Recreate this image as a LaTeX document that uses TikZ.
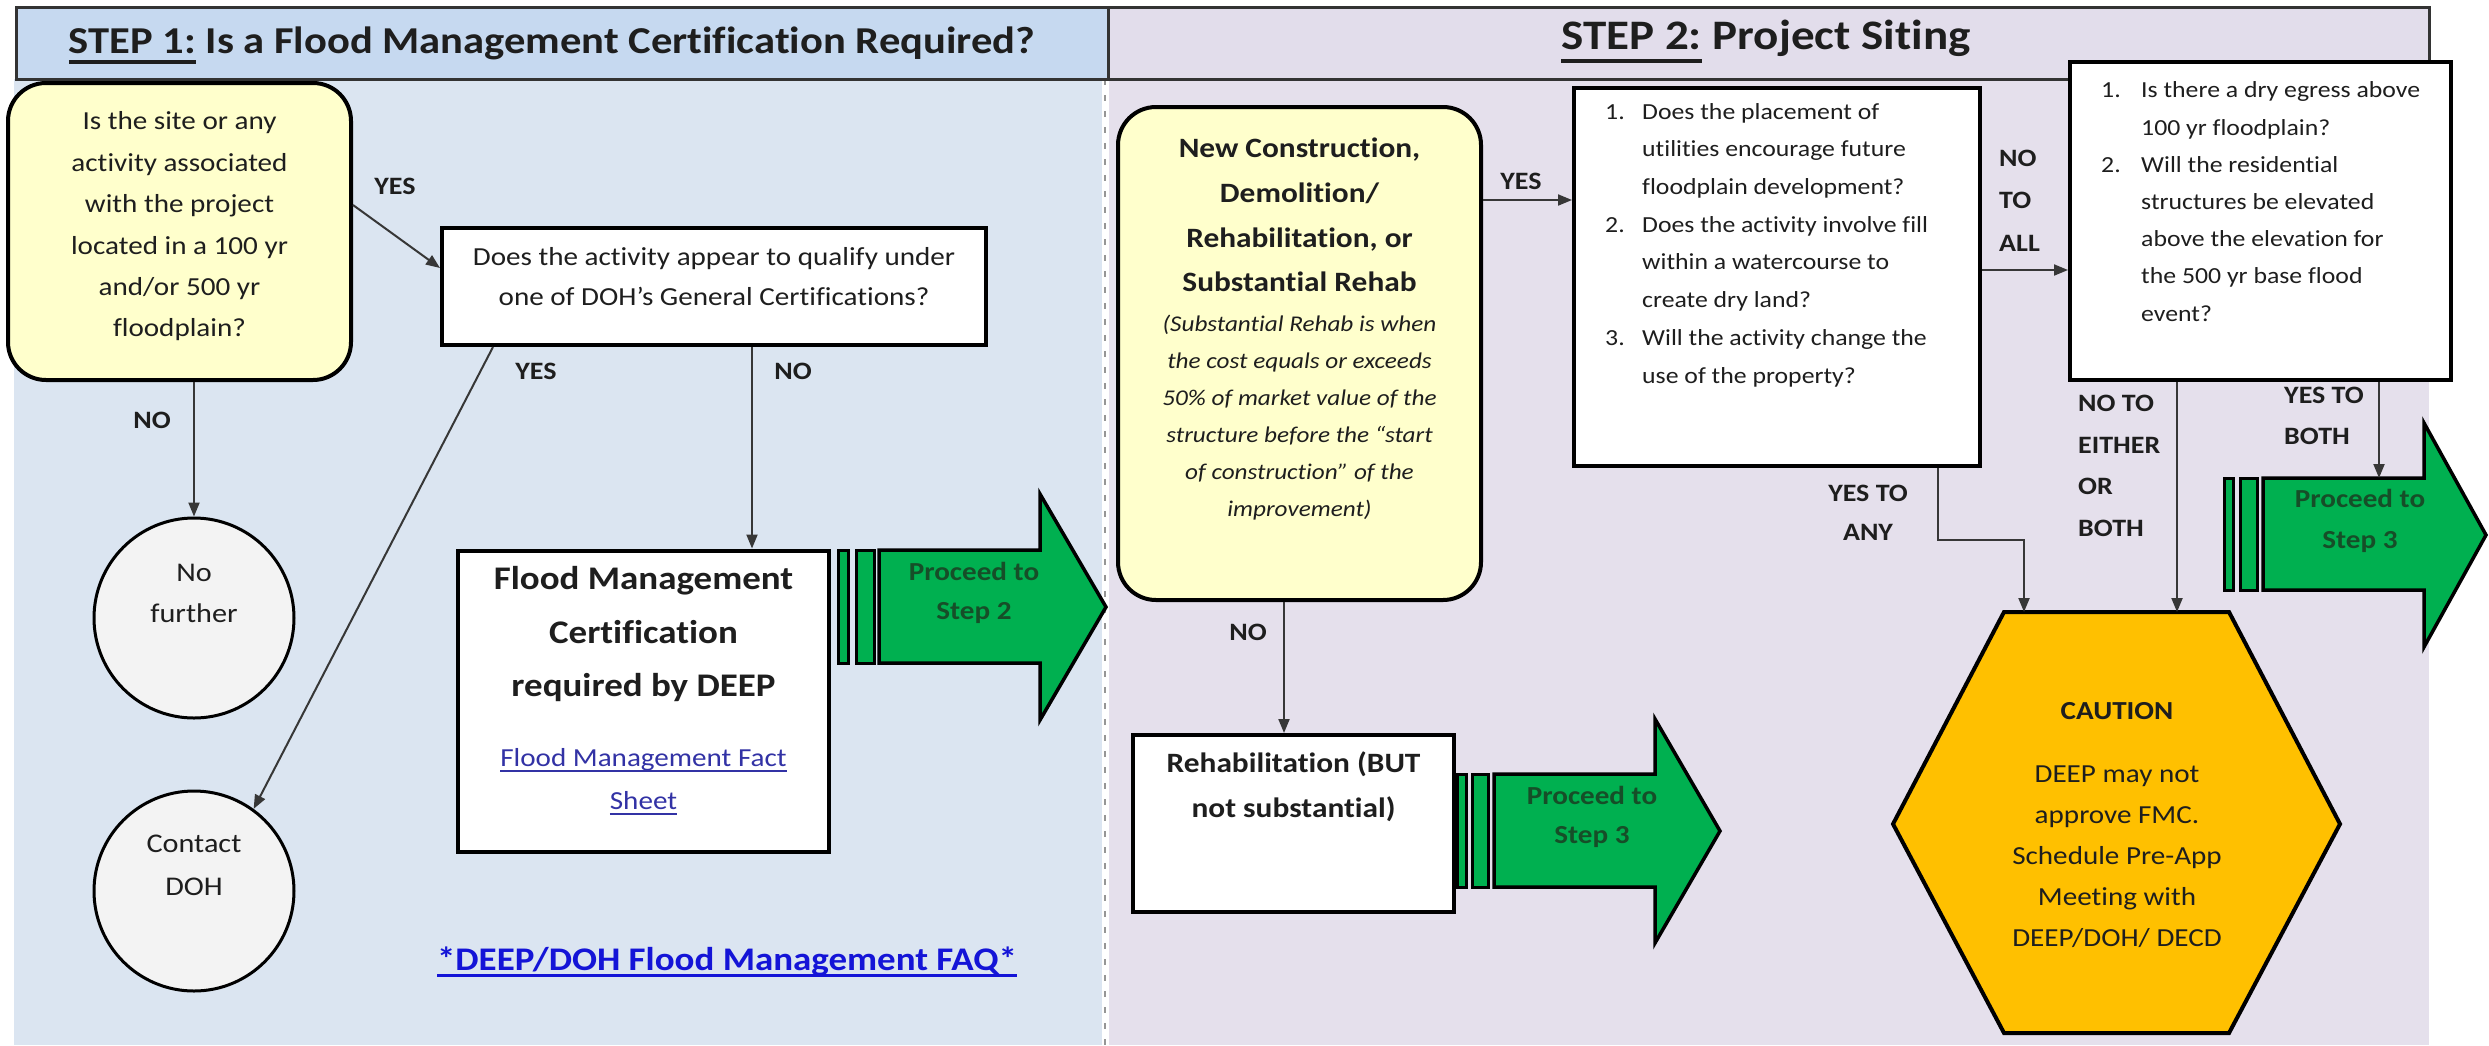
\documentclass[tikz,border=0pt]{standalone}
\usepackage{fontspec}
\setmainfont{Carlito}[FakeStretch=1.12,Ligatures=NoCommon]
\usetikzlibrary{arrows.meta,calc}

\definecolor{hdrA}{RGB}{198,217,240}
\definecolor{panA}{RGB}{219,229,241}
\definecolor{hdrB}{RGB}{226,221,235}
\definecolor{panB}{RGB}{229,224,236}
\definecolor{ybg}{RGB}{255,255,204}
\definecolor{cgray}{RGB}{243,243,243}
\definecolor{amber}{RGB}{255,192,0}
\definecolor{grn}{RGB}{0,176,80}
\definecolor{dkgrn}{RGB}{22,78,40}
\definecolor{txtc}{RGB}{30,30,30}
\definecolor{arrc}{RGB}{55,55,55}
\definecolor{linkc}{RGB}{50,50,165}
\definecolor{faqc}{RGB}{20,20,215}
\definecolor{sepc}{RGB}{150,150,150}

\newcommand{\fsz}[2]{\fontsize{#1pt}{#2pt}\selectfont}
\newcommand{\myul}[3]{\setbox0=\hbox{#3}\leavevmode\rlap{\rule[-#1]{\wd0}{#2}}\box0\relax}

\tikzset{
  box/.style={draw=black, line width=4pt, fill=white, inner sep=0pt},
  ybox/.style={box, fill=ybg, rounded corners=38pt},
  circ/.style={circle, draw=black, line width=3pt, fill=cgray, minimum size=200pt, inner sep=0pt},
  txt/.style={inner sep=0pt, text=txtc},
  lbl/.style={txt, font=\bfseries\fsz{25}{41}},
  arr/.style={draw=arrc, line width=2pt, -{Triangle[length=14pt,width=11pt]}},
  bar/.style={draw=black, line width=3pt, fill=grn},
  garrow/.style={draw=black, line width=3.5pt, fill=grn, line join=miter},
  gtxt/.style={txt, text=dkgrn, align=center},
}

\begin{document}
\begin{tikzpicture}[x=1pt,y=-1pt]
\useasboundingbox (0,0) rectangle (2489,1045);
\fill[white] (0,0) rectangle (2489,1045);

% panels and headers
\fill[hdrA] (16,7) rectangle (1108,79);
\fill[hdrB] (1108,7) rectangle (2429,79);
\fill[panA] (14,79) rectangle (1105,1045);
\fill[panB] (1105,79) rectangle (2429,1045);
\draw[white, line width=7pt] (1105,79) -- (1105,1045);
\draw[sepc, line width=2pt, dash pattern=on 6pt off 10pt] (1105,79) -- (1105,1045);
\draw[line width=3pt, draw=black!80] (16,7) rectangle (2429,79);
\draw[line width=3pt, draw=black!80] (1108,7) -- (1108,79);

\node[txt, font=\bfseries\fsz{38}{44}, anchor=base] (h1) at (552,53)
  {\myul{11pt}{4pt}{STEP 1:} Is a Flood Management Certification Required?};
\node[txt, font=\bfseries\fsz{42}{48}, anchor=base] (h2) at (1766,49)
  {\myul{14pt}{4.5pt}{STEP 2:} Project Siting};

% ---------- STEP 1 ----------
\node[ybox, minimum width=343pt, minimum height=297pt] (q1) at (179.5,231.5) {};
\node[txt, align=center, font=\fsz{26}{41.4}] (q1t) at (179.5,226.5)
  {Is the site or any\\activity associated\\with the project\\located in a 100 yr\\and/or 500 yr\\floodplain?};

\node[box, minimum width=544pt, minimum height=117pt] (q2) at (714,286.5) {};
\node[txt, align=center, font=\fsz{26}{40}] (q2t) at (714,277)
  {Does the activity appear to qualify under\\one of DOH’s General Certifications?};

\node[circ] (nf) at (194,618) {};
\node[txt, align=center, font=\fsz{27}{41}] (nft) at (194,593.5) {No\\further};
\node[circ] (cd) at (194,891) {};
\node[txt, align=center, font=\fsz{27}{43}] (cdt) at (194,865.5) {Contact\\DOH};

\node[box, minimum width=371pt, minimum height=301pt] (fmc) at (643.5,701) {};
\node[txt, align=center, font=\bfseries\fsz{33}{53.5}] (fmct) at (643.5,634.5)
  {Flood Management\\Certification\\required by DEEP};
\node[txt, align=center, text=linkc, font=\fsz{26}{43}] (fmcl) at (643.5,781.5)
  {\myul{6pt}{2.2pt}{Flood Management Fact}\\\myul{6pt}{2.2pt}{Sheet}};

\node[txt, text=faqc, font=\bfseries\fsz{33}{40}] (faq) at (727,962)
  {\myul{6pt}{3pt}{*DEEP/DOH Flood Management FAQ*}};

% green arrow step 2
\draw[bar] (838,550) rectangle (848,663);
\draw[bar] (856,550) rectangle (874,663);
\draw[garrow] (879,550) -- (1040,550) -- (1040,494) -- (1106,607) -- (1040,720) -- (1040,663) -- (879,663) -- cycle;
\node[gtxt, font=\bfseries\fsz{26}{39}] (g2t) at (974,592.5) {Proceed to\\Step 2};

% ---------- STEP 2 ----------
\node[ybox, minimum width=363pt, minimum height=493pt] (y2) at (1299.5,353.5) {};
\node[txt, align=center, font=\bfseries\fsz{28}{44.7}] (y2t) at (1299.5,215)
  {New Construction,\\Demolition/\\Rehabilitation, or\\Substantial Rehab};
\node[txt, align=center, font=\itshape\fsz{22.5}{37}] (y2i) at (1299.5,418)
  {(Substantial Rehab is when\\the cost equals or exceeds\\50\% of market value of the\\structure  before the “start\\of construction” of the\\improvement)};

\node[box, minimum width=406pt, minimum height=378pt] (q3) at (1777,277) {};
\node[txt, align=left, anchor=west, font=\fsz{23}{37.7}] (q3t) at (1605,245)
  {\makebox[37pt][l]{1.}Does the placement of\\
   \hspace*{37pt}utilities encourage future\\
   \hspace*{37pt}floodplain development?\\
   \makebox[37pt][l]{2.}Does the activity involve fill\\
   \hspace*{37pt}within a watercourse to\\
   \hspace*{37pt}create dry land?\\
   \makebox[37pt][l]{3.}Will the activity change the\\
   \hspace*{37pt}use of the property?};

\node[box, minimum width=381pt, minimum height=318pt] (q4) at (2260.5,221) {};
\node[txt, align=left, anchor=west, font=\fsz{23}{37.2}] (q4t) at (2101,201.5)
  {\makebox[40pt][l]{1.}Is there a dry egress above\\
   \hspace*{40pt}100 yr floodplain?\\
   \makebox[40pt][l]{2.}Will the residential\\
   \hspace*{40pt}structures be elevated\\
   \hspace*{40pt}above the elevation for\\
   \hspace*{40pt}the 500 yr base flood\\
   \hspace*{40pt}event?};

\node[box, minimum width=321pt, minimum height=177pt] (rehab) at (1293.5,823.5) {};
\node[txt, align=center, font=\bfseries\fsz{28}{45}] (rehabt) at (1293.5,786.5)
  {Rehabilitation (BUT\\not substantial)};

% green arrow rehab
\draw[bar] (1457,774) rectangle (1466,887);
\draw[bar] (1472,774) rectangle (1488,887);
\draw[garrow] (1494,774) -- (1655,774) -- (1655,719) -- (1720,831) -- (1655,943) -- (1655,887) -- (1494,887) -- cycle;
\node[gtxt, font=\bfseries\fsz{26}{39}] (grt) at (1592,816.5) {Proceed to\\Step 3};

% green arrow top right
\draw[bar] (2224,478) rectangle (2233,590);
\draw[bar] (2240,478) rectangle (2257,590);
\draw[garrow] (2263,478) -- (2424,478) -- (2424,423) -- (2486,535) -- (2424,647) -- (2424,590) -- (2263,590) -- cycle;
\node[gtxt, font=\bfseries\fsz{26}{41}] (g3t) at (2360,521) {Proceed to\\Step 3};
\coordinate (ga3top) at (2379,478);

% caution hexagon
\draw[draw=black, line width=4pt, fill=amber, line join=miter]
  (2004,612) -- (2229,612) -- (2340,824) -- (2229,1033) -- (2004,1033) -- (1893,824) -- cycle;
\coordinate (hexA) at (2024,612);
\coordinate (hexB) at (2177,612);
\node[txt, font=\bfseries\fsz{26}{40}] (cau1) at (2117,711) {CAUTION};
\node[txt, align=center, font=\fsz{26}{41}] (cau2) at (2117,856.5)
  {DEEP may not\\approve FMC.\\Schedule Pre-App\\Meeting with\\DEEP/DOH/ DECD};

% labels
\node[lbl] (lyes1) at (395,186) {YES};
\node[lbl] (lno1) at (152,420) {NO};
\node[lbl] (lyes2) at (536,371) {YES};
\node[lbl] (lno2) at (793,371) {NO};
\node[lbl] (lyes3) at (1521,181) {YES};
\node[lbl] (lno3) at (1248,632) {NO};
\node[lbl, align=left, anchor=west, font=\bfseries\fsz{25}{42.5}] (lnta) at (1999,200.5) {NO\\TO\\ALL};
\node[lbl, align=center, font=\bfseries\fsz{25}{39}] (lyta) at (1868,512.5) {YES TO\\ANY};
\node[lbl, align=left, anchor=west, font=\bfseries\fsz{25}{41.7}] (lnte) at (2078,466) {NO TO\\EITHER\\OR\\BOTH};
\node[lbl, align=left, anchor=west, font=\bfseries\fsz{25}{41}] (lytb) at (2284,415.5) {YES TO\\BOTH};

% connectors
\draw[arr] (q1.east |- 0,205) -- (q2.west |- 0,268);
\draw[arr] (q1.south -| nf.north) -- (nf.north);
\draw[arr] (q2.south -| 493,0) -- (cd.54);
\draw[arr] (q2.south -| 752,0) -- (fmc.north -| 752,0);
\draw[arr] (y2.east |- 0,200) -- (q3.west |- 0,200);
\draw[arr] (y2.south -| 1284,0) -- (rehab.north -| 1284,0);
\draw[arr] (q3.east |- 0,270) -- (q4.west |- 0,270);
\draw[arr] (q3.south -| 1938,0) |- (2024,540) -- (hexA);
\draw[arr] (q4.south -| hexB) -- (hexB);
\draw[arr] (q4.south -| ga3top) -- (ga3top);
\end{tikzpicture}
\end{document}
